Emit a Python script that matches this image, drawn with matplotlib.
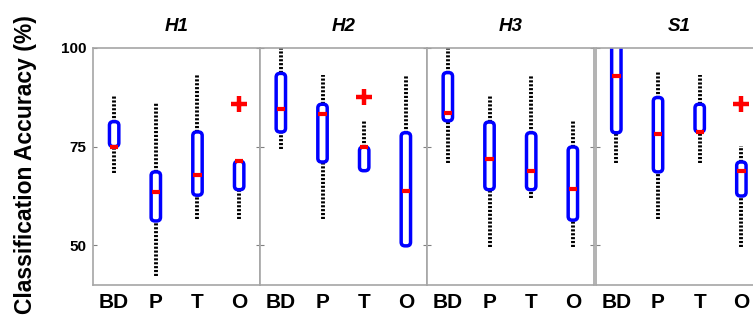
import matplotlib
matplotlib.use("Agg")
import matplotlib.pyplot as plt
from matplotlib.patches import FancyBboxPatch

plt.rcParams['font.family'] = ['Liberation Sans', 'DejaVu Sans']

panels = ["H1", "H2", "H3", "S1"]
categories = ["BD", "P", "T", "O"]

# per panel: lists per category (BD, P, T, O)
whisker_low = {
    "H1": [68.4, 42.3, 56.6, 56.6],
    "H2": [74.5, 56.6, 68.9, 49.9],
    "H3": [70.9, 49.6, 62.1, 49.6],
    "S1": [70.9, 56.6, 70.9, 49.6],
}
q1 = {
    "H1": [75.0, 56.2, 62.7, 64.1],
    "H2": [78.7, 71.1, 68.9, 49.9],
    "H3": [81.5, 64.1, 64.1, 56.4],
    "S1": [78.5, 68.6, 78.7, 62.5],
}
median = {
    "H1": [75.0, 63.4, 67.9, 71.3],
    "H2": [84.5, 83.3, 74.9, 63.7],
    "H3": [83.5, 71.8, 68.7, 64.3],
    "S1": [92.8, 78.1, 78.7, 68.8],
}
q3 = {
    "H1": [81.3, 68.6, 78.7, 71.3],
    "H2": [93.5, 85.7, 74.9, 78.5],
    "H3": [93.7, 81.2, 78.5, 74.9],
    "S1": [102.0, 87.4, 85.7, 71.1],
}
whisker_high = {
    "H1": [87.8, 85.9, 93.1, 71.3],
    "H2": [100.0, 93.1, 81.7, 93.1],
    "H3": [100.0, 87.8, 93.1, 81.5],
    "S1": [102.0, 94.1, 93.1, 75.2],
}
outliers = {
    "H1": [[], [], [], [85.7]],
    "H2": [[], [], [87.6], []],
    "H3": [[], [], [], []],
    "S1": [[], [], [], [85.7]],
}

W, H = 753, 327
fig = plt.figure(figsize=(W / 100, H / 100), dpi=100)

lefts = [93.3, 260.0, 427.0, 595.5]
pw = 166.7
ax_bottom = (H - 285.0) / H
ax_height = (285.0 - 47.7) / H

spine_col = '#a6a6a6'
box_w = 0.225
round_x = 0.09
aspect = 10.5
dots = (0, (0.55, 0.45))

for i, name in enumerate(panels):
    ax = fig.add_axes([lefts[i] / W, ax_bottom, pw / W, ax_height])
    xs = list(range(1, len(categories) + 1))
    for j, x in enumerate(xs):
        lo, a, m, b, hi = (whisker_low[name][j], q1[name][j], median[name][j],
                           q3[name][j], whisker_high[name][j])
        # whiskers
        if hi > b:
            ax.plot([x, x], [b, hi], color='black', lw=2.8,
                    linestyle=dots, dash_capstyle='butt', zorder=1)
        if lo < a:
            ax.plot([x, x], [lo, a], color='black', lw=2.8,
                    linestyle=dots, dash_capstyle='butt', zorder=1)
        # box
        box = FancyBboxPatch((x - box_w / 2, a), box_w, b - a,
                             boxstyle=f"round,pad=0,rounding_size={round_x}",
                             mutation_aspect=aspect,
                             facecolor='white', edgecolor='#0000ff',
                             linewidth=2.5, zorder=2)
        ax.add_patch(box)
        # median
        ax.plot([x - 0.1, x + 0.1], [m, m], color='#ff0000', lw=3.0,
                solid_capstyle='butt', zorder=3)
        # outliers
        for o in outliers[name][j]:
            ax.plot([x], [o], marker='+', color='#ff0000', markersize=11,
                    markeredgewidth=3.2, zorder=3, linestyle='none')

    ax.set_xlim(0.5, 4.5)
    ax.set_ylim(40, 100)
    ax.set_xticks(xs)
    ax.set_xticklabels(categories, fontsize=15, fontweight='bold')
    ax.set_yticks([50, 75, 100])
    ax.tick_params(axis='x', length=0, pad=6)
    ax.tick_params(axis='y', direction='in', length=3, width=0.8,
                   color='#808080', left=True, right=True, labelsize=11, pad=5)
    for lab in ax.get_yticklabels():
        lab.set_fontweight('bold')
    if i > 0:
        ax.set_yticklabels([])
    for s in ax.spines.values():
        s.set_color(spine_col)
        s.set_linewidth(1.2)
    ax.set_title(name, fontsize=13.5, fontweight='bold', fontstyle='italic',
                 pad=12)

fig.text(26 / W, (H - 165) / H, "Classification Accuracy (%)", rotation=90,
         ha='center', va='center', fontsize=16.5, fontweight='bold')

fig.savefig("out.png", dpi=100)
